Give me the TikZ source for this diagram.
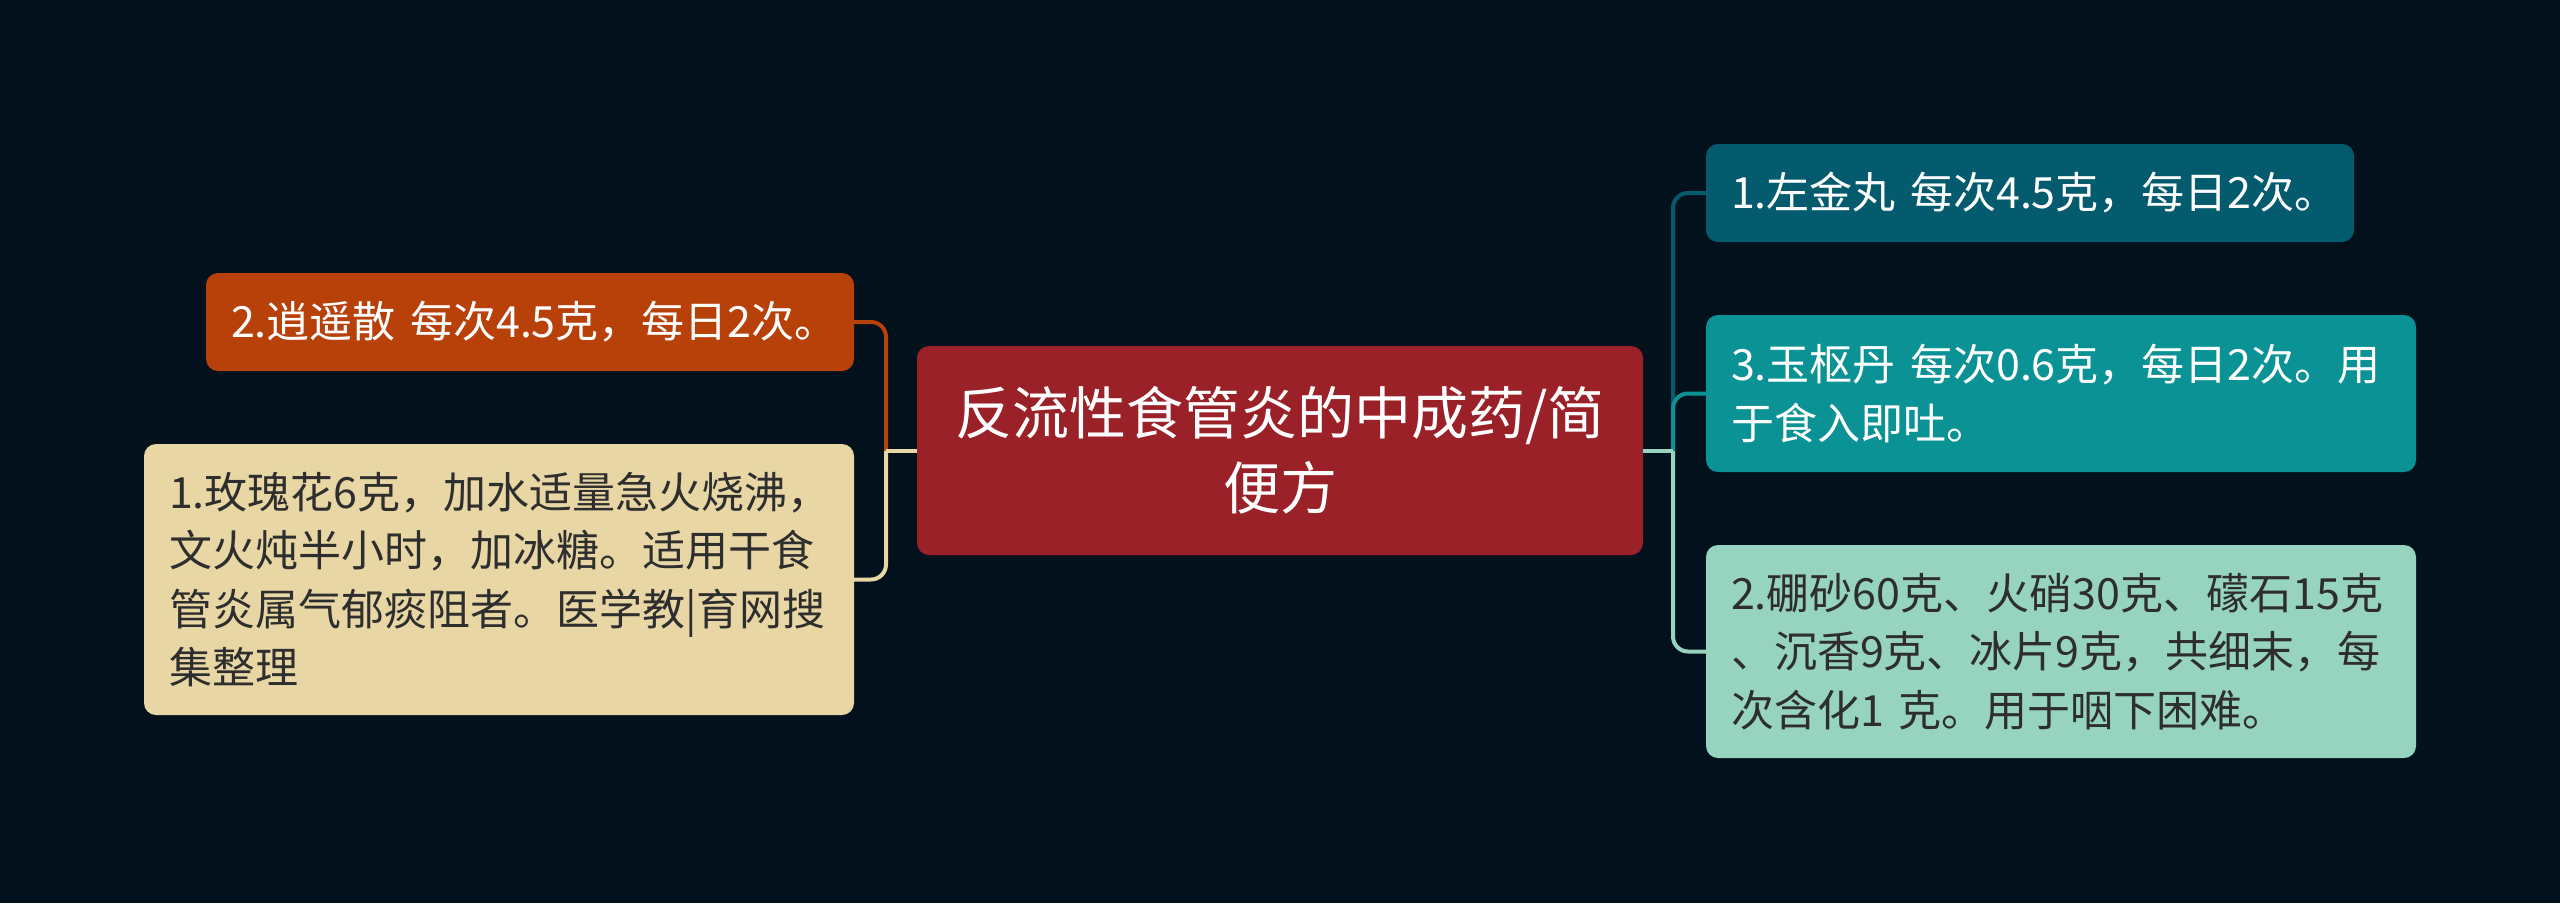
\documentclass[tikz,border=0pt]{standalone}
\usepackage{fontspec}
\newfontfamily\cjk{Noto Sans CJK SC}
\definecolor{bgcol}{HTML}{02111B}
\definecolor{centercol}{HTML}{9B2128}
\definecolor{ronecol}{HTML}{045B6D}
\definecolor{rtwocol}{HTML}{0A9295}
\definecolor{rthreecol}{HTML}{97D4C0}
\definecolor{lonecol}{HTML}{B84009}
\definecolor{ltwocol}{HTML}{E8D7A5}
\definecolor{darktext}{HTML}{2E2E2E}
\tikzset{
  leafbox/.style={rounded corners=12pt, inner xsep=25pt, inner ysep=0pt,
    align=left, font={\cjk\fontsize{43}{58.5}\selectfont}},
  centerbox/.style={rounded corners=12pt, inner xsep=18pt, inner ysep=0pt,
    align=center, font={\cjk\fontsize{57}{75}\selectfont}, text=white,
    fill=centercol, text width=690pt, minimum height=209pt},
  link/.style={line width=4pt, rounded corners=15pt}
}
\begin{document}
\begin{tikzpicture}[x=1pt,y=-1pt]
\useasboundingbox (0,0) rectangle (2560,903);
\fill[bgcol] (0,0) rectangle (2560,903);

\node[centerbox] (c) at (1280,450.5) {反流性食管炎的中成药/简\\便方};

\node[leafbox, fill=ronecol, text=white, text width=598pt, minimum height=98pt]
  (r1) at (2030,193) {1.左金丸~每次4.5克，每日2次。};
\node[leafbox, fill=rtwocol, text=white, text width=660pt, minimum height=157pt]
  (r2) at (2061,393.5) {3.玉枢丹~每次0.6克，每日2次。用\\于食入即吐。};
\node[leafbox, fill=rthreecol, text=darktext, text width=660pt, minimum height=213pt]
  (r3) at (2061,651.5) {2.硼砂60克、火硝30克、礞石15克\\、沉香9克、冰片9克，共细末，每\\次含化1~克。用于咽下困难。};

\node[leafbox, fill=lonecol, text=white, text width=598pt, minimum height=98pt]
  (l1) at (530,322) {2.逍遥散~每次4.5克，每日2次。};
\node[leafbox, fill=ltwocol, text=darktext, text width=660pt, minimum height=271pt]
  (l2) at (499,579.5) {1.玫瑰花6克，加水适量急火烧沸，\\文火炖半小时，加冰糖。适用干食\\管炎属气郁痰阻者。医学教|育网搜\\集整理};

\coordinate (rj) at (1673,450.5);
\coordinate (lj) at (886,450.5);

\draw[link, rthreecol] (rj) |- (r3.west);
\draw[link, ronecol] (rj) |- (r1.west);
\draw[link, rtwocol] (rj) |- (r2.west);
\draw[link, rthreecol] (c.east) -- (rj);

\draw[link, lonecol] (lj) |- (l1.east);
\draw[link, ltwocol] (lj) |- (l2.east);
\draw[link, ltwocol] (c.west) -- (lj);
\end{tikzpicture}
\end{document}
